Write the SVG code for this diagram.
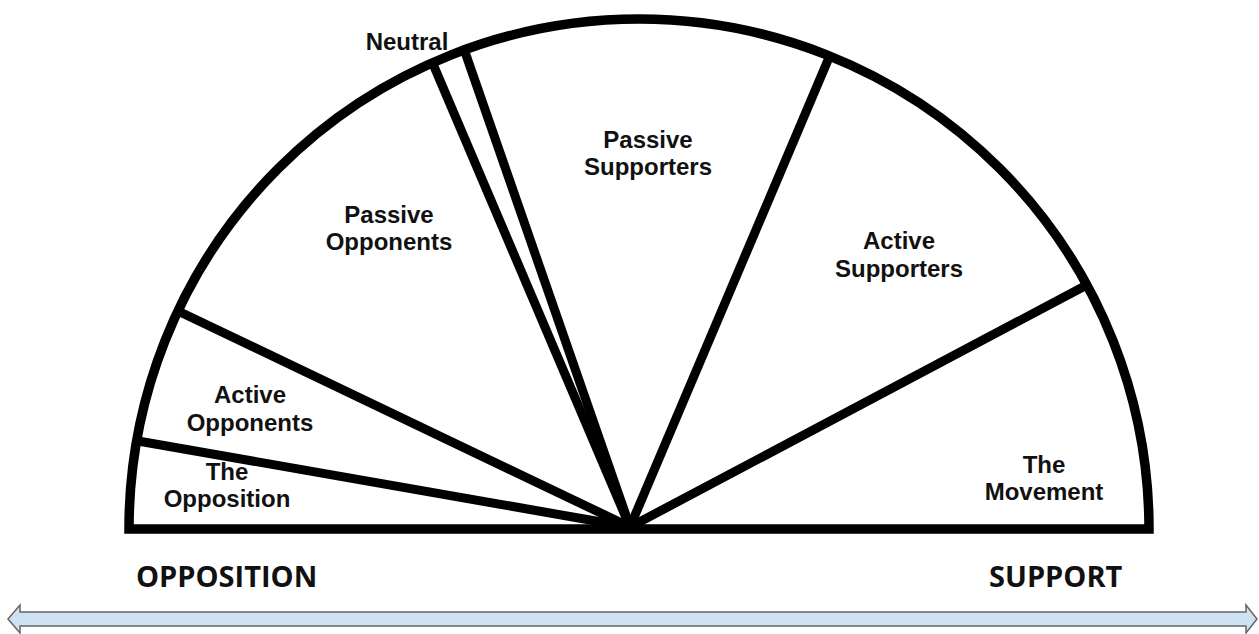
<svg xmlns="http://www.w3.org/2000/svg" width="1259" height="634" viewBox="0 0 1259 634">
<style>
.lbl{font-family:"Liberation Sans",Arial,sans-serif;font-weight:bold;font-size:24px;fill:#111;text-anchor:middle}
.axis{font-family:"Open Sans","Liberation Sans",sans-serif;font-weight:bold;font-size:29px;fill:#111}
.div{stroke:#000;stroke-width:9;fill:none;stroke-linecap:butt}
.shape{stroke:#000;stroke-width:9.5;fill:none;stroke-linejoin:miter}
</style>
<rect width="1259" height="634" fill="#fff"/>
<g id="connectors">
<line class="div" x1="630" y1="527" x2="138" y2="441"/>
<line class="div" x1="630" y1="527" x2="180" y2="312"/>
<line class="div" x1="630" y1="527" x2="433" y2="64"/>
<line class="div" x1="630" y1="527" x2="465" y2="52"/>
<line class="div" x1="630" y1="527" x2="828" y2="60"/>
<line class="div" x1="630" y1="527" x2="1083" y2="287"/>
</g>
<g id="semicircle">
<path class="shape" d="M129 529 A510 510 0 0 1 1149 529 Z"/>
</g>
<g id="the-opposition"><text class="lbl" x="227" y="480">The</text><text class="lbl" x="227" y="507">Opposition</text></g>
<g id="active-opponents"><text class="lbl" x="250" y="403">Active</text><text class="lbl" x="250" y="431">Opponents</text></g>
<g id="passive-opponents"><text class="lbl" x="389" y="223">Passive</text><text class="lbl" x="389" y="250">Opponents</text></g>
<g id="neutral"><text class="lbl" x="407" y="50">Neutral</text></g>
<g id="passive-supporters"><text class="lbl" x="648" y="148">Passive</text><text class="lbl" x="648" y="175">Supporters</text></g>
<g id="active-supporters"><text class="lbl" x="899" y="249">Active</text><text class="lbl" x="899" y="277">Supporters</text></g>
<g id="the-movement"><text class="lbl" x="1044" y="473">The</text><text class="lbl" x="1044" y="500">Movement</text></g>
<g id="axis">
<text class="axis" x="136" y="587">OPPOSITION</text>
<text class="axis" x="989" y="587">SUPPORT</text>
<polygon points="8,619 20,605 20,612 1246,612 1246,605 1257,619 1246,633 1246,626 20,626 20,633" fill="#cfe2f3" stroke="#666" stroke-width="1.5" stroke-linejoin="miter"/>
</g>
</svg>
